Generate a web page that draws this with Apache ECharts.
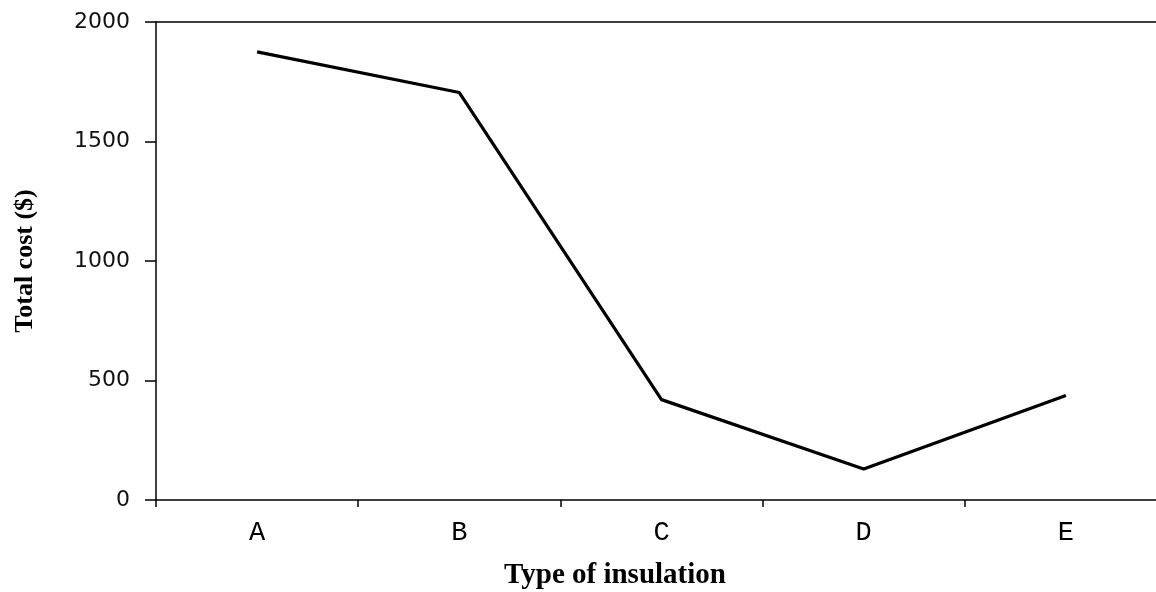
<!DOCTYPE html>
<html>
<head>
<meta charset="utf-8">
<script src="https://cdn.jsdelivr.net/npm/echarts@6/dist/echarts.min.js"></script>
<style>html,body{margin:0;padding:0;background:#fff}#c{width:1156px;height:592px}</style>
</head>
<body>
<div id="c"></div>
<script>
const categories = ['A', 'B', 'C', 'D', 'E'];
const totalCost = [1875, 1705, 420, 130, 437];
const yTicks = { min: 0, max: 2000, interval: 500 };
const xTitle = 'Type of insulation';
const yTitle = 'Total cost ($)';

const chart = echarts.init(document.getElementById('c'));
chart.setOption({
  animation: false,
  backgroundColor: '#fff',
  grid: { left: 156, right: -11, top: 22, bottom: 92, containLabel: false, outerBoundsMode: 'none' },
  xAxis: [{
    type: 'category',
    data: categories,
    boundaryGap: true,
    axisLine: { lineStyle: { color: '#000', width: 1.5 } },
    axisTick: { show: true, length: 7, inside: false, lineStyle: { color: '#000', width: 1.5 } },
    axisLabel: { color: '#000', fontFamily: 'Liberation Mono', fontSize: 27, margin: 19 },
    splitLine: { show: false }
  }, {
    type: 'category',
    data: categories,
    position: 'top',
    axisLine: { lineStyle: { color: '#000', width: 1.5 } },
    axisTick: { show: false },
    axisLabel: { show: false },
    splitLine: { show: false }
  }],
  yAxis: {
    type: 'value',
    min: yTicks.min, max: yTicks.max, interval: yTicks.interval,
    name: yTitle,
    nameLocation: 'middle',
    nameGap: 118,
    nameTextStyle: { color: '#000', fontFamily: 'Liberation Serif', fontWeight: 'bold', fontSize: 26 },
    axisLine: { show: true, lineStyle: { color: '#000', width: 1.5 } },
    axisTick: { show: true, length: 11, lineStyle: { color: '#000', width: 1.5 } },
    axisLabel: { color: '#111', fontFamily: 'DejaVu Sans', fontSize: 22, margin: 26, formatter: v => String(v) },
    splitLine: { show: false }
  },
  graphic: [{
    type: 'text',
    x: 615, y: 576,
    style: { text: xTitle, fill: '#000', font: 'bold 29px "Liberation Serif"', align: 'center', verticalAlign: 'middle' }
  }],
  series: [{
    type: 'line',
    data: totalCost,
    showSymbol: false,
    symbol: 'none',
    lineStyle: { color: '#000', width: 3.2 }
  }]
});
</script>
</body>
</html>
